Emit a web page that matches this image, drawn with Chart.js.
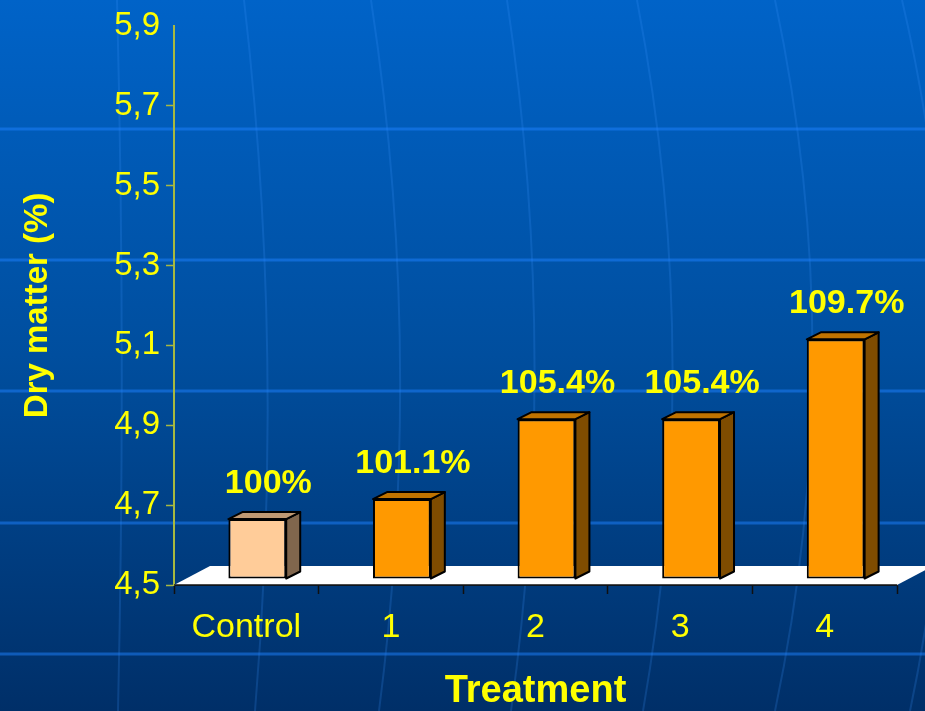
<!DOCTYPE html>
<html>
<head>
    <title>Dry matter by treatment</title>
    <script src="https://cdn.jsdelivr.net/npm/chart.js@4.4.1/dist/chart.umd.min.js"></script>
    <style>
        html, body {
            margin: 0;
            padding: 0;
            background-color: #003a7a;
        }
        .chart-box {
            position: relative;
            width: 925px;
            height: 711px;
        }
    </style>
</head>
<body>
    <div class="chart-box">
        <canvas id="dmChart"></canvas>
    </div>

    <script>
        const categories = ['Control', '1', '2', '3', '4'];
        const dryMatter = [4.65, 4.70, 4.90, 4.90, 5.10];
        const yMin = 4.5;
        const yMax = 5.9;
        const yStep = 0.2;

        // each treatment relative to the control, e.g. "101.1%"
        const pctLabels = dryMatter.map(v => (Math.round(v / dryMatter[0] * 1000) / 10) + '%');

        const YELLOW = '#ffff00';
        const OLIVE = '#a8b840';
        const FONT = "'Liberation Sans', Arial, sans-serif";

        // pseudo-3D geometry (pixels)
        const SHIFT_X = 11, SHIFT_Y = -6;   // bars sit a little back on the floor
        const DEPTH_X = 14, DEPTH_Y = -7;   // bar depth
        const FLOOR_X = 36, FLOOR_Y = -19;  // floor depth

        // front / top / side colours
        function barFaces(i) {
            return i === 0
                ? ['#ffcc99', '#bf9973', '#80664d']
                : ['#ff9900', '#c07300', '#7f4c00'];
        }

        const slideBackground = {
            id: 'slideBackground',
            beforeDraw(chart) {
                const { ctx, width, height } = chart;
                ctx.save();
                const g = ctx.createLinearGradient(0, 0, 0, height);
                g.addColorStop(0, '#0063c8');
                g.addColorStop(0.5, '#004e9e');
                g.addColorStop(1, '#002f68');
                ctx.fillStyle = g;
                ctx.fillRect(0, 0, width, height);

                // faint meridian curves: x at top, bulge, bottom
                const meridians = [
                    [117, 126, 118],
                    [244, 285, 255],
                    [371, 425, 379],
                    [507, 560, 511],
                    [637, 705, 643],
                    [775, 850, 775],
                    [902, 985, 910]
                ];
                ctx.strokeStyle = 'rgba(60, 150, 255, 0.2)';
                ctx.lineWidth = 2;
                meridians.forEach(m => {
                    ctx.beginPath();
                    ctx.moveTo(m[0], 0);
                    ctx.quadraticCurveTo(m[1], height * 0.5, m[2], height);
                    ctx.stroke();
                });

                // horizontal bands
                ctx.strokeStyle = 'rgba(30, 130, 255, 0.5)';
                ctx.lineWidth = 3;
                [129, 260, 391, 523, 654].forEach(y => {
                    ctx.beginPath();
                    ctx.moveTo(0, y);
                    ctx.lineTo(width, y);
                    ctx.stroke();
                });
                ctx.restore();
            }
        };

        const bars3d = {
            id: 'bars3d',
            beforeDatasetsDraw(chart) {
                const { ctx } = chart;
                const { left, right, bottom } = chart.chartArea;
                ctx.save();
                ctx.fillStyle = '#ffffff';
                ctx.beginPath();
                ctx.moveTo(left, bottom);
                ctx.lineTo(right, bottom);
                ctx.lineTo(right + FLOOR_X, bottom + FLOOR_Y);
                ctx.lineTo(left + FLOOR_X, bottom + FLOOR_Y);
                ctx.closePath();
                ctx.fill();
                ctx.strokeStyle = '#101010';
                ctx.lineWidth = 1.5;
                ctx.beginPath();
                ctx.moveTo(left, bottom);
                ctx.lineTo(right, bottom);
                ctx.stroke();
                ctx.restore();
            },
            beforeDatasetDraw(chart) {
                chart.ctx.save();
                chart.ctx.translate(SHIFT_X, SHIFT_Y);
            },
            afterDatasetDraw(chart, args) {
                const { ctx } = chart;
                ctx.lineWidth = 2;
                ctx.lineJoin = 'round';
                ctx.strokeStyle = '#000000';
                args.meta.data.forEach((bar, i) => {
                    const { x, y, base, width } = bar.getProps(['x', 'y', 'base', 'width'], true);
                    const x1 = x - width / 2, x2 = x + width / 2;
                    const [, top, side] = barFaces(i);

                    ctx.fillStyle = side;
                    ctx.beginPath();
                    ctx.moveTo(x2, y);
                    ctx.lineTo(x2 + DEPTH_X, y + DEPTH_Y);
                    ctx.lineTo(x2 + DEPTH_X, base + DEPTH_Y);
                    ctx.lineTo(x2, base);
                    ctx.closePath();
                    ctx.fill();
                    ctx.stroke();

                    ctx.fillStyle = top;
                    ctx.beginPath();
                    ctx.moveTo(x1, y);
                    ctx.lineTo(x1 + DEPTH_X, y + DEPTH_Y);
                    ctx.lineTo(x2 + DEPTH_X, y + DEPTH_Y);
                    ctx.lineTo(x2, y);
                    ctx.closePath();
                    ctx.fill();
                    ctx.stroke();
                });
                ctx.restore();
            },
            afterDatasetsDraw(chart) {
                const { ctx } = chart;
                const meta = chart.getDatasetMeta(0);
                ctx.save();
                ctx.fillStyle = YELLOW;
                ctx.font = 'bold 34px ' + FONT;
                ctx.textAlign = 'center';
                ctx.textBaseline = 'alphabetic';
                meta.data.forEach((bar, i) => {
                    ctx.fillText(pctLabels[i], bar.x + SHIFT_X + 11, bar.y - 32);
                });
                ctx.restore();
            }
        };

        const ctx = document.getElementById('dmChart').getContext('2d');
        const chart = new Chart(ctx, {
            type: 'bar',
            data: {
                labels: categories,
                datasets: [{
                    label: 'Dry matter (%)',
                    data: dryMatter,
                    base: yMin,
                    backgroundColor: dryMatter.map((_, i) => barFaces(i)[0]),
                    borderColor: '#000000',
                    borderWidth: 2,
                    borderSkipped: false,
                    barPercentage: 0.4,
                    categoryPercentage: 1.0,
                    clip: false
                }]
            },
            options: {
                responsive: true,
                maintainAspectRatio: false,
                animation: false,
                layout: {
                    padding: { left: 0, top: 22, right: 28, bottom: 0 }
                },
                plugins: {
                    legend: { display: false },
                    tooltip: { enabled: false }
                },
                scales: {
                    x: {
                        offset: true,
                        grid: {
                            offset: true,
                            drawOnChartArea: false,
                            tickLength: 9,
                            tickColor: '#101010',
                            tickWidth: 1.5
                        },
                        border: { display: true, color: '#101010', width: 1.5 },
                        ticks: {
                            color: YELLOW,
                            font: { family: FONT, size: 34 },
                            padding: 13
                        },
                        title: {
                            display: true,
                            text: 'Treatment',
                            color: YELLOW,
                            font: { family: FONT, size: 38, weight: 'bold', lineHeight: 1 },
                            padding: 0
                        },
                        afterFit(scale) { scale.height = 126; }
                    },
                    y: {
                        min: yMin,
                        max: yMax,
                        grid: {
                            drawOnChartArea: false,
                            tickLength: 8,
                            tickWidth: 1.5,
                            tickColor: c => (c.tick && c.tick.value > yMax - 1e-6) ? 'rgba(0,0,0,0)' : OLIVE
                        },
                        border: { display: true, color: OLIVE, width: 2 },
                        ticks: {
                            stepSize: yStep,
                            color: YELLOW,
                            font: { family: FONT, size: 33 },
                            padding: 6,
                            callback: v => v.toFixed(1).replace('.', ',')
                        },
                        title: {
                            display: true,
                            text: 'Dry matter (%)',
                            color: YELLOW,
                            font: { family: FONT, size: 33, weight: 'bold', lineHeight: 1.2 },
                            padding: { top: 18, bottom: 0 }
                        },
                        afterFit(scale) { scale.width = 174; }
                    }
                }
            },
            plugins: [slideBackground, bars3d]
        });
    </script>
</body>
</html>
